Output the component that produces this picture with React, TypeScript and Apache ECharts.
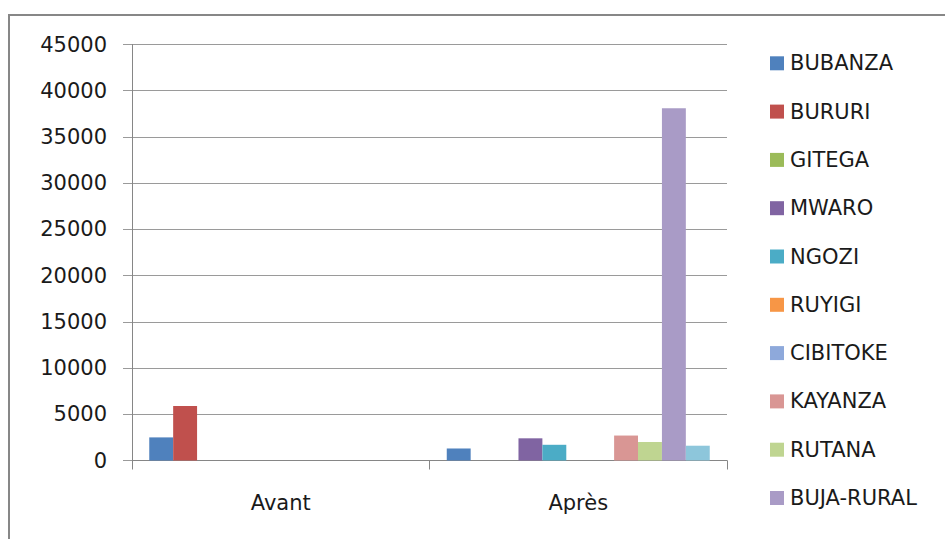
import React, { useEffect, useRef } from "react";
import * as echarts from "echarts";

const categories = ["Avant", "Après"];
const seriesNames = [
  "BUBANZA",
  "BURURI",
  "GITEGA",
  "MWARO",
  "NGOZI",
  "RUYIGI",
  "CIBITOKE",
  "KAYANZA",
  "RUTANA",
  "BUJA-RURAL",
  "Série 11",
];
const legendNames = seriesNames.slice(0, 10);
const bubanza = [2500, 1300];
const bururi = [5900, 0];
const gitega = [0, 0];
const mwaro = [0, 2400];
const ngozi = [0, 1700];
const ruyigi = [0, 0];
const cibitoke = [0, 0];
const kayanza = [0, 2700];
const rutana = [0, 2000];
const bujaRural = [0, 38100];
const serie11 = [0, 1600];
const seriesValues = [bubanza, bururi, gitega, mwaro, ngozi, ruyigi, cibitoke, kayanza, rutana, bujaRural, serie11];
const colors = [
  "#4F81BD",
  "#C0504D",
  "#9BBB59",
  "#8064A2",
  "#4BACC6",
  "#F79646",
  "#8EA9DB",
  "#D99694",
  "#BFD591",
  "#A99BC6",
  "#8DC6DB",
];
const yTicks = { min: 0, max: 45000, interval: 5000 };

const FONT = "DejaVu Sans";
const FS = 21;

export default function App() {
  const ref = useRef<HTMLDivElement>(null);
  useEffect(() => {
    if (!ref.current) return;
    const chart = echarts.init(ref.current, undefined, { renderer: "svg" });
    chart.setOption({
      animation: false,
      backgroundColor: "#ffffff",
      color: colors,
      graphic: [
        {
          type: "rect",
          shape: { x: 9, y: 15, width: 960, height: 560 },
          style: { fill: "none", stroke: "#878787", lineWidth: 2 },
          silent: true,
        },
      ],
      legend: {
        data: legendNames,
        orient: "vertical",
        left: 770,
        top: 52.8,
        height: 520,
        padding: 0,
        itemWidth: 14,
        itemHeight: 14,
        itemGap: 48.3 - FS,
        icon: "rect",
        textStyle: { fontFamily: FONT, fontSize: FS, color: "#1a1a1a", padding: [0, 0, 0, 1] },
      },
      grid: { left: 132, right: 218, top: 44.5, bottom: 78.5, containLabel: false },
      xAxis: {
        type: "category",
        data: categories,
        axisLine: { lineStyle: { color: "#868686", width: 1 } },
        axisTick: { show: true, length: 9, lineStyle: { color: "#868686" } },
        axisLabel: { fontFamily: FONT, fontSize: FS, color: "#1a1a1a", margin: 32 },
      },
      yAxis: {
        type: "value",
        min: yTicks.min,
        max: yTicks.max,
        interval: yTicks.interval,
        axisLine: { show: true, lineStyle: { color: "#868686", width: 1 } },
        axisTick: { show: true, length: 9, lineStyle: { color: "#9a9a9a" } },
        splitLine: { lineStyle: { color: "#9a9a9a", width: 1 } },
        axisLabel: { fontFamily: FONT, fontSize: FS, color: "#1a1a1a", margin: 25, formatter: (v: number) => String(v) },
      },
      series: seriesNames.map((name, i) => ({
        name,
        type: "bar",
        data: seriesValues[i],
        barGap: "0%",
        barCategoryGap: "11.6%",
        itemStyle: { color: colors[i] },
      })),
    });
    return () => chart.dispose();
  }, []);
  return <div ref={ref} style={{ position: "fixed", left: 0, top: 0, width: 945, height: 539 }} />;
}
